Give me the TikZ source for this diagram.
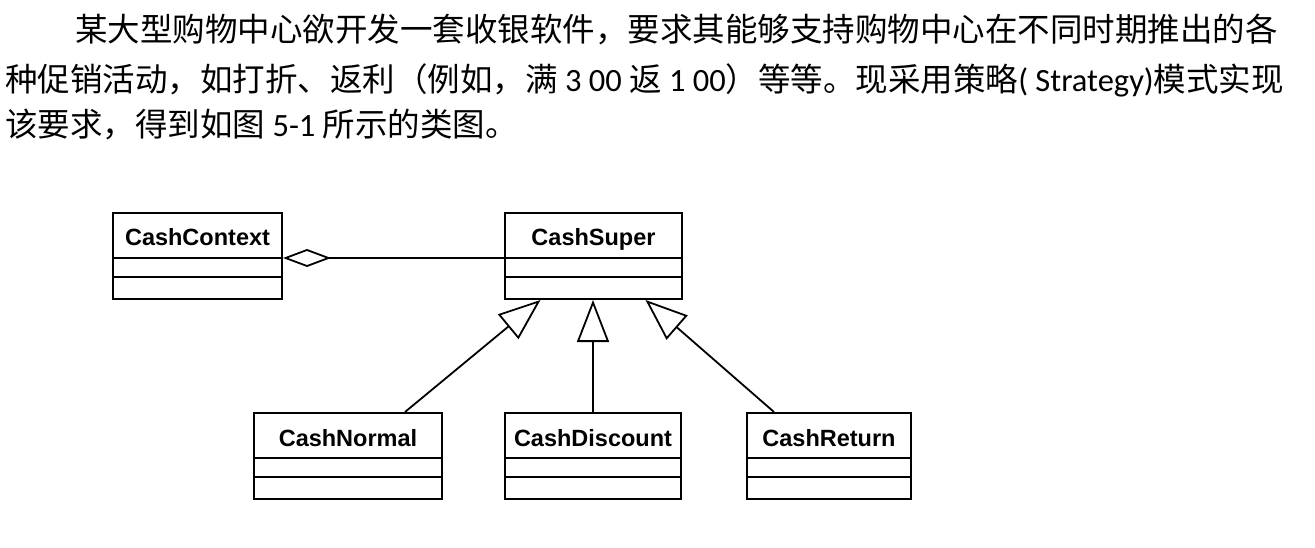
\documentclass[tikz,border=0pt]{standalone}
\usepackage{fontspec}
\setmainfont{Liberation Sans}
\newfontfamily\cjk{Noto Sans CJK SC}
\newfontfamily\carl{Carlito}
\usetikzlibrary{arrows.meta,calc}
\begin{document}
\begin{tikzpicture}[x=1pt,y=-1pt,
  cls/.style={draw, line width=2pt, inner sep=0pt, minimum height=86pt},
  clsname/.style={anchor=base, inner sep=0pt, font=\fontsize{23.5}{26}\selectfont\bfseries},
  para/.style={anchor=base west, inner sep=0pt, font=\fontsize{32.5}{36}\selectfont\cjk},
  gen/.style={line width=1.8pt, -{Triangle[open, length=42pt, width=32pt, line width=1.8pt]}},
  agg/.style={line width=1.8pt, {Diamond[open, length=48pt, width=18pt, line width=1.8pt]}-}
]
\useasboundingbox (0,0) rectangle (1315,548);

% paragraph
\node[para] (l1) at (75,42) {某大型购物中心欲开发一套收银软件，要求其能够支持购物中心在不同时期推出的各};
\node[para] (l2) at (5,92) {种促销活动，如打折、返利（例如，满{\carl\ 3 00 }返{\carl\ 1 00}）等等。现采用策略{\carl( Strategy)}模式实现};
\node[para] (l3) at (5,137) {该要求，得到如图{\carl\ 5-1 }所示的类图。};

% classes
\node[cls, minimum width=169pt] (cc) at (197.5,256) {};
\node[cls, minimum width=177pt] (cs) at (593.5,256) {};
\node[cls, minimum width=188pt] (cn) at (348,456) {};
\node[cls, minimum width=176pt] (cd) at (593,456) {};
\node[cls, minimum width=164pt] (cr) at (829,456) {};

\foreach \n/\t in {cc/CashContext, cs/CashSuper, cn/CashNormal, cd/CashDiscount, cr/CashReturn}{
  \node[clsname] (\n-name) at ($(\n.north)+(0,34)$) {\t};
  \draw[line width=2pt] ($(\n.north west)+(0,46)$) -- ($(\n.north east)+(0,46)$);
  \draw[line width=2pt] ($(\n.north west)+(0,65)$) -- ($(\n.north east)+(0,65)$);
}

% aggregation
\coordinate (ccR) at ($(cc.north east)+(0,46)$);
\coordinate (csL) at ($(cs.north west)+(0,46)$);
\draw[agg] (ccR) -- (csL);

% generalizations
\coordinate (cnT) at ($(cn.north west)+(152,0)$);
\coordinate (csA) at ($(cs.south)+(-53,0)$);
\coordinate (crT) at ($(cr.north west)+(28,0)$);
\coordinate (csC) at ($(cs.south)+(52,0)$);
\draw[gen] (cnT) -- (csA);
\draw[gen] (cd.north) -- (cd.north |- cs.south);
\draw[gen] (crT) -- (csC);
\end{tikzpicture}
\end{document}
